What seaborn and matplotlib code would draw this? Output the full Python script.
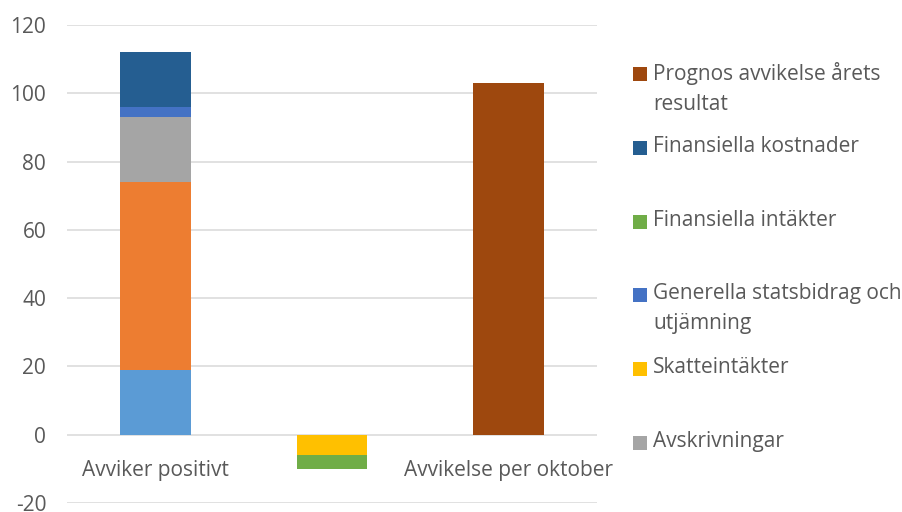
import seaborn as sns
import matplotlib.pyplot as plt
import matplotlib.patches as mpatches
import numpy as np

# categories on the x axis (middle one has no label)
categories = ["Avviker positivt", " ", "Avvikelse per oktober"]

# series in stacking order (bottom to top)
series_names = [
    "Verksamhetens nettokostnader",
    "Verksamhetens intäkter",
    "Avskrivningar",
    "Skatteintäkter",
    "Generella statsbidrag och utjämning",
    "Finansiella intäkter",
    "Finansiella kostnader",
    "Prognos avvikelse årets resultat",
]
nettokostnader = [19, 0, 0]
intakter = [55, 0, 0]
avskrivningar = [19, 0, 0]
skatteintakter = [0, -6, 0]
generella = [3, 0, 0]
fin_intakter = [0, -4, 0]
fin_kostnader = [16, 0, 0]
prognos = [0, 0, 103]

series_values = [nettokostnader, intakter, avskrivningar, skatteintakter,
                 generella, fin_intakter, fin_kostnader, prognos]
colors = ["#5B9BD5", "#ED7D31", "#A5A5A5", "#FFC000",
          "#4472C4", "#70AD47", "#255E91", "#9E480E"]

# legend entries shown in the picture (top to bottom)
legend_labels = [
    "Prognos avvikelse årets\nresultat",
    "Finansiella kostnader",
    "Finansiella intäkter",
    "Generella statsbidrag och\nutjämning",
    "Skatteintäkter",
    "Avskrivningar",
]
legend_series = [7, 6, 5, 4, 3, 2]

sns.set_theme(style="white")
plt.rcParams["font.family"] = ["Open Sans", "DejaVu Sans"]
plt.rcParams["axes.unicode_minus"] = False
text_color = "#595959"
fs = 15

fig = plt.figure(figsize=(9.03, 5.12), dpi=100)
ax = fig.add_axes([67 / 903, 1 - 503 / 512, 530 / 903, 478 / 512])

pos_bottom = np.zeros(len(categories))
neg_bottom = np.zeros(len(categories))
for name, vals, col in zip(series_names, series_values, colors):
    vals = np.array(vals, dtype=float)
    bottom = np.where(vals >= 0, pos_bottom, neg_bottom)
    sns.barplot(x=categories, y=vals, bottom=bottom, color=col,
                width=0.4, ax=ax, saturation=1, linewidth=0, zorder=3)
    pos_bottom += np.clip(vals, 0, None)
    neg_bottom += np.clip(vals, None, 0)

ax.set_ylim(-20, 120)
ax.set_yticks(np.arange(-20, 121, 20))
ax.set_xlim(-0.5, 2.5)
ax.grid(axis="y", color="#D9D9D9", linewidth=1.1, zorder=0)
ax.set_axisbelow(True)
for s in ax.spines.values():
    s.set_visible(False)
ax.spines["bottom"].set_position(("data", 0))
ax.tick_params(axis="both", length=0, labelsize=fs, labelcolor=text_color)
ax.tick_params(axis="y", pad=15)
ax.tick_params(axis="x", pad=18)
ax.set_xlabel("")
ax.set_ylabel("")

# legend on the right, equal slots like the original
for i, (lab, si) in enumerate(zip(legend_labels, legend_series)):
    yc = 74 + 73.8 * i
    fig.patches.append(mpatches.Rectangle(
        (633 / 903, 1 - (yc + 7) / 512), 14 / 903, 14 / 512,
        transform=fig.transFigure, color=colors[si], linewidth=0))
    fig.text(653 / 903, 1 - (yc - 12) / 512, lab, va="top", ha="left",
             fontsize=fs, color=text_color, linespacing=1.55,
             transform=fig.transFigure)

fig.savefig("out.png", dpi=100)
